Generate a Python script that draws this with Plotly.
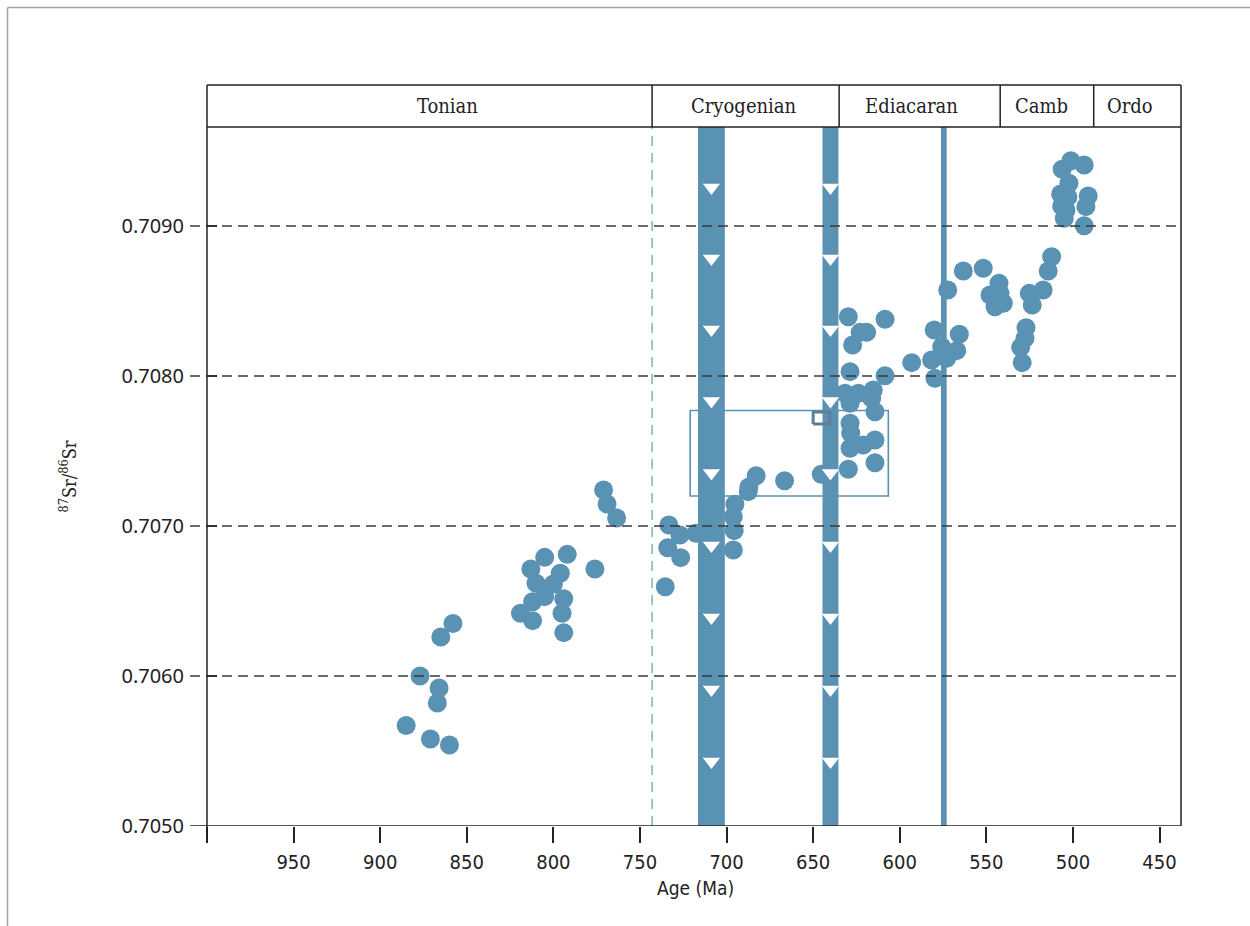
import plotly.graph_objects as go

# Seawater 87Sr/86Sr compilation, Tonian to early Ordovician
age_ma = [
    885, 877, 871, 867, 866, 865, 860, 858,
    819, 813, 812, 812, 810, 805, 805, 800, 796, 795, 794, 794, 792,
    776, 771, 769, 763.5,
    735.4, 734, 733.3, 726.9, 726.5, 717.7,
    696.1, 695.6, 696.1, 695.2, 687.5, 687.1, 682.9, 666.5, 645.3,
    629.7, 628.7, 628.3, 628.7, 628.7, 631.6, 623.9, 621.1, 615.3, 616.2,
    614.3, 614.3, 614.3, 628.7, 608.5, 627.2, 622.9, 619.1, 629.7, 608.5,
    593.1, 581.6, 579.7, 580.1, 575.8, 572.9, 567.1, 565.6, 572.3, 563.3,
    551.8, 547.9, 542.7, 542.1, 545.0, 540.2,
    525.2, 523.5, 517.2, 527.1, 527.7, 530.2, 529.3, 514.3, 512.3,
    507.1, 506.2, 501.2, 493.5, 502.3, 506.5, 505.0, 493.5, 491.2, 492.5,
    502.9, 504.0,
]
sr_ratio = [
    0.70567, 0.70600, 0.70558, 0.70582, 0.70592, 0.70626, 0.70554, 0.70635,
    0.706418, 0.706713, 0.706495, 0.706369, 0.706618, 0.706529, 0.706791,
    0.706613, 0.706685, 0.706418, 0.706515, 0.706289, 0.706811,
    0.706713, 0.707240, 0.707147, 0.707053,
    0.706595, 0.706855, 0.707007, 0.706940, 0.706789, 0.706951,
    0.707062, 0.706969, 0.706840, 0.707145, 0.707229, 0.707260, 0.707335,
    0.707302, 0.707345,
    0.707378, 0.707518, 0.707618, 0.707685, 0.707818, 0.707885, 0.707885,
    0.707540, 0.707907, 0.707851, 0.707762, 0.707573, 0.707422, 0.708029,
    0.708002, 0.708207, 0.708291, 0.708291, 0.708395, 0.708378,
    0.708089, 0.708107, 0.707985, 0.708307, 0.708195, 0.708118, 0.708169,
    0.708278, 0.708573, 0.708700,
    0.708718, 0.708540, 0.708618, 0.708551, 0.708462, 0.708485,
    0.708551, 0.708473, 0.708573, 0.708322, 0.708251, 0.708191, 0.708089,
    0.708700, 0.708795,
    0.709213, 0.709378, 0.709435, 0.709407, 0.709285, 0.709133, 0.709051,
    0.709002, 0.709200, 0.709129,
    0.709193, 0.709107,
]

# Glaciations (Ma): Sturtian, Marinoan, Gaskiers
sturtian = [716.5, 701.0]
marinoan = [644.6, 635.4]
gaskiers = [576.2, 572.9]
glacial_marks = [0.709257, 0.708783, 0.708310, 0.707833, 0.707353,
                 0.706870, 0.706390, 0.705910, 0.705430]

# Geological periods along the top band
period_names = ["Tonian", "Cryogenian", "Ediacaran", "Camb", "Ordo"]
period_bounds = [1000, 743, 635, 542, 488, 437.6]
period_label_at = [861, 690, 593, 518, 467]

# Highlighted window and its small inset marker
window_age = [721, 606.6]
window_sr = [0.7072, 0.70777]
inset_age = [650, 640.4]
inset_sr = [0.70768, 0.70776]

x_ticks = [1000, 950, 900, 850, 800, 750, 700, 650, 600, 550, 500, 450]
x_tick_text = ["", "950", "900", "850", "800", "750", "700", "650",
               "600", "550", "500", "450"]
y_ticks = [0.7050, 0.7060, 0.7070, 0.7080, 0.7090]
y_tick_text = ["0.7050", "0.7060", "0.7070", "0.7080", "0.7090"]

x_range = [1000, 437.6]
y_range = [0.7050, 0.70966]

BLUE = "#5a92b3"
INK = "#222222"
PLOT_W, PLOT_H = 974, 699
NARROW = "DejaVu Sans Condensed, Roboto, sans-serif"
SLAB = "DejaVu Serif Condensed, DejaVu Serif, serif"

fig = go.Figure()

fig.add_trace(go.Scatter(
    x=age_ma, y=sr_ratio, mode="markers",
    marker=dict(size=19, color=BLUE, line=dict(width=0)),
    hoverinfo="x+y", showlegend=False,
))

for lo, hi in (sturtian, marinoan, gaskiers):
    fig.add_trace(go.Scatter(
        x=[lo, lo, hi, hi, lo],
        y=[y_range[0], y_range[1], y_range[1], y_range[0], y_range[0]],
        mode="lines", fill="toself", fillcolor=BLUE,
        line=dict(width=0, color=BLUE), hoverinfo="skip", showlegend=False,
    ))

for lo, hi in (sturtian, marinoan):
    mid = (lo + hi) / 2
    fig.add_trace(go.Scatter(
        x=[mid] * len(glacial_marks), y=glacial_marks, mode="markers",
        marker=dict(symbol="triangle-down", size=15, color="white",
                    line=dict(width=0)),
        hoverinfo="skip", showlegend=False,
    ))

fig.add_trace(go.Scatter(
    x=[inset_age[0], inset_age[1], inset_age[1], inset_age[0], inset_age[0]],
    y=[inset_sr[0], inset_sr[0], inset_sr[1], inset_sr[1], inset_sr[0]],
    mode="lines", line=dict(color="#5d7e95", width=3),
    hoverinfo="skip", showlegend=False,
))

shapes = []
# highlighted window
shapes.append(dict(type="rect", xref="x", yref="y",
                   x0=window_age[0], x1=window_age[1],
                   y0=window_sr[0], y1=window_sr[1],
                   line=dict(color=BLUE, width=1.6), layer="below"))

# Tonian/Cryogenian boundary
shapes.append(dict(type="line", xref="x", yref="paper",
                   x0=period_bounds[1], x1=period_bounds[1], y0=0, y1=1,
                   line=dict(color="#86adc6", width=1.5, dash="10px,7px"),
                   layer="above"))

# dashed horizontal grid, running slightly past the y axis
left_ext = -17 / PLOT_W
for v in y_ticks[1:]:
    shapes.append(dict(type="line", xref="paper", yref="y",
                       x0=left_ext, x1=1, y0=v, y1=v,
                       line=dict(color="#3a3a3a", width=1.5, dash="10px,6px"),
                       layer="above"))

# axis frame
head_top = 1 + 42 / PLOT_H
shapes.append(dict(type="line", xref="paper", yref="y", x0=left_ext, x1=1,
                   y0=y_range[0], y1=y_range[0],
                   line=dict(color=INK, width=1.5), layer="above"))
shapes.append(dict(type="line", xref="paper", yref="paper", x0=0, x1=0,
                   y0=-16 / PLOT_H, y1=head_top,
                   line=dict(color=INK, width=1.5), layer="above"))
shapes.append(dict(type="line", xref="paper", yref="paper", x0=1, x1=1,
                   y0=0, y1=head_top,
                   line=dict(color=INK, width=1.5), layer="above"))

# period band
shapes.append(dict(type="line", xref="paper", yref="paper", x0=0, x1=1,
                   y0=1, y1=1, line=dict(color=INK, width=1.5)))
shapes.append(dict(type="line", xref="paper", yref="paper", x0=0, x1=1,
                   y0=head_top, y1=head_top, line=dict(color=INK, width=1.5)))
for b in period_bounds[1:-1]:
    shapes.append(dict(type="line", xref="x", yref="paper", x0=b, x1=b,
                       y0=1, y1=head_top, line=dict(color=INK, width=1.5)))

# outer page frame
fx0 = (7.5 - 207) / PLOT_W
fx1 = (1250 - 207) / PLOT_W
fy_top = 1 + (127 - 7.5) / PLOT_H
fy_bot = (826 - 926) / PLOT_H
shapes.append(dict(type="line", xref="paper", yref="paper", x0=fx0, x1=fx1,
                   y0=fy_top, y1=fy_top, line=dict(color="#a3a3a3", width=1.5)))
shapes.append(dict(type="line", xref="paper", yref="paper", x0=fx0, x1=fx0,
                   y0=fy_top, y1=fy_bot, line=dict(color="#a3a3a3", width=1.5)))

annotations = []
for name, pos in zip(period_names, period_label_at):
    annotations.append(dict(x=pos, xref="x", y=1 + 21 / PLOT_H, yref="paper",
                            text=name, showarrow=False, xanchor="center",
                            yanchor="middle",
                            font=dict(family=SLAB, size=20, color=INK)))
annotations.append(dict(x=(695 - 207) / PLOT_W, xref="paper",
                        y=(826 - 888) / PLOT_H, yref="paper",
                        text="Age (Ma)", showarrow=False, xanchor="center",
                        yanchor="middle",
                        font=dict(family=NARROW, size=19, color=INK)))
annotations.append(dict(x=(68 - 207) / PLOT_W, xref="paper", y=0.5, yref="paper",
                        text="<sup>87</sup>Sr/<sup>86</sup>Sr", showarrow=False,
                        textangle=-90, xanchor="center", yanchor="middle",
                        font=dict(family=SLAB, size=18, color=INK)))

fig.update_layout(
    width=1250, height=926,
    margin=dict(l=207, r=69, t=127, b=100),
    paper_bgcolor="white", plot_bgcolor="white",
    shapes=shapes, annotations=annotations, showlegend=False,
    xaxis=dict(range=x_range, tickvals=x_ticks, ticktext=x_tick_text,
               ticks="outside", ticklen=16, tickwidth=1.5, tickcolor=INK,
               showgrid=False, zeroline=False, showline=False,
               ticklabelstandoff=2,
               tickfont=dict(family=NARROW, size=20, color=INK)),
    yaxis=dict(range=y_range, tickvals=y_ticks, ticktext=y_tick_text,
               ticks="inside", ticklen=10, tickwidth=1.5, tickcolor=INK,
               showgrid=False, zeroline=False, showline=False,
               ticklabelstandoff=22,
               tickfont=dict(family="Noto Sans", size=20, color=INK)),
)

fig.write_html("out.html")
